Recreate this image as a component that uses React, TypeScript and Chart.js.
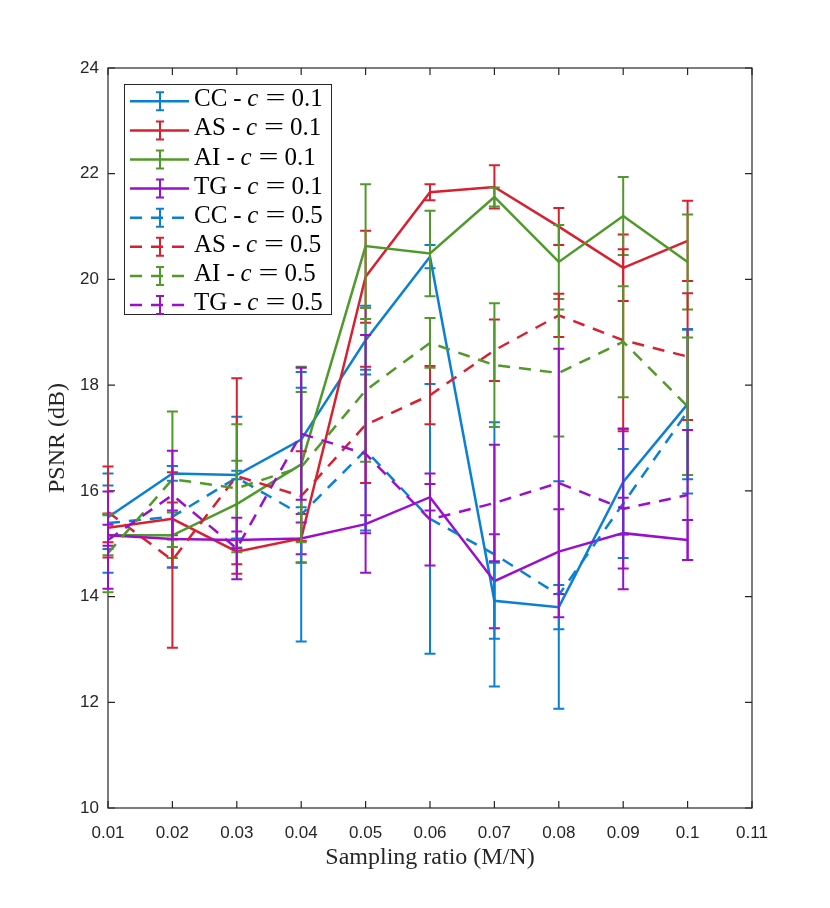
import React, { useEffect, useRef } from 'react'
import { Chart, registerables } from 'chart.js'

Chart.register(...registerables)

// sampling ratios (M/N)
const xValues = [0.01, 0.02, 0.03, 0.04, 0.05, 0.06, 0.07, 0.08, 0.09, 0.1]
const xTicks = [0.01, 0.02, 0.03, 0.04, 0.05, 0.06, 0.07, 0.08, 0.09, 0.1, 0.11]
const yTicks = [10, 12, 14, 16, 18, 20, 22, 24]

// c = 0.1
const ccMean01 = [15.5, 16.33, 16.3, 16.97, 18.85, 20.43, 13.92, 13.8, 16.17, 17.64]
const ccErr01 = [0.6, 0.14, 0.08, 1.28, 0.65, 0.22, 0.72, 0.42, 1.0, 1.42]
const asMean01 = [15.3, 15.47, 14.85, 15.1, 20.05, 21.65, 21.75, 21.0, 20.22, 20.73]
const asErr01 = [0.27, 0.31, 0.24, 0.46, 0.87, 0.15, 0.41, 0.35, 0.63, 0.76]
const aiMean01 = [15.16, 15.16, 15.75, 16.5, 20.63, 20.49, 21.56, 20.33, 21.2, 20.33]
const aiErr01 = [0.38, 0.43, 0.82, 1.85, 1.17, 0.81, 0.18, 0.7, 0.74, 0.9]
const tgMean01 = [15.16, 15.09, 15.07, 15.1, 15.37, 15.88, 14.29, 14.85, 15.2, 15.07]
const tgErr01 = [0.2, 0.54, 0.16, 0.3, 0.17, 0.25, 0.89, 0.8, 0.67, 0.38]

// c = 0.5
const ccMean05 = [15.39, 15.51, 16.25, 15.55, 16.77, 15.47, 14.8, 14.03, 15.76, 17.5]
const ccErr05 = [0.94, 0.96, 1.15, 2.4, 1.52, 2.55, 2.5, 2.15, 1.03, 1.55]
const asMean05 = [15.6, 14.69, 16.28, 15.9, 17.25, 17.81, 18.66, 19.32, 18.85, 18.54]
const asErr05 = [0.86, 1.66, 1.85, 0.85, 1.1, 0.55, 0.58, 0.41, 1.72, 1.2]
const aiMean05 = [14.82, 16.22, 16.05, 16.45, 17.9, 18.8, 18.38, 18.23, 18.82, 17.6]
const aiErr05 = [0.74, 1.28, 1.21, 1.42, 1.35, 0.47, 1.17, 1.2, 1.05, 1.3]
const tgMean05 = [15.07, 15.92, 14.91, 17.08, 16.7, 15.46, 15.77, 16.15, 15.66, 15.92]
const tgErr05 = [0.92, 0.84, 0.58, 1.25, 2.25, 0.87, 1.1, 2.54, 1.52, 1.23]

const methodNames = ['CC', 'AS', 'AI', 'TG', 'CC', 'AS', 'AI', 'TG']
const cValues = ['0.1', '0.1', '0.1', '0.1', '0.5', '0.5', '0.5', '0.5']
const seriesMeans = [ccMean01, asMean01, aiMean01, tgMean01, ccMean05, asMean05, aiMean05, tgMean05]
const seriesErrs = [ccErr01, asErr01, aiErr01, tgErr01, ccErr05, asErr05, aiErr05, tgErr05]
const colors = ['#0a80d4', '#d9202f', '#4f9a2a', '#9a0fcc']
const DASH = [12, 9]

const AXIS_COLOR = '#262626'
const SERIF = '"Liberation Serif", "Times New Roman", serif'

const errorBarPlugin = {
  id: 'errorBars',
  afterDatasetDraw(chart, args) {
    const ds = chart.data.datasets[args.index]
    const errs = ds.errors
    if (!errs) return
    const ctx = chart.ctx
    const xs = chart.scales.x
    const ys = chart.scales.y
    ctx.save()
    ctx.strokeStyle = ds.borderColor
    ctx.lineWidth = 2
    ctx.setLineDash([])
    ds.data.forEach((p, i) => {
      const px = xs.getPixelForValue(p.x)
      const top = ys.getPixelForValue(p.y + errs[i])
      const bot = ys.getPixelForValue(p.y - errs[i])
      ctx.beginPath()
      ctx.moveTo(px, top)
      ctx.lineTo(px, bot)
      ctx.moveTo(px - 5.5, top)
      ctx.lineTo(px + 5.5, top)
      ctx.moveTo(px - 5.5, bot)
      ctx.lineTo(px + 5.5, bot)
      ctx.stroke()
    })
    ctx.restore()
  }
}

// matlab style box with inward ticks on all four sides
const boxPlugin = {
  id: 'matlabBox',
  beforeDatasetsDraw(chart) {
    const ctx = chart.ctx
    const a = chart.chartArea
    const xs = chart.scales.x
    const ys = chart.scales.y
    ctx.save()
    ctx.strokeStyle = AXIS_COLOR
    ctx.lineWidth = 1.2
    ctx.strokeRect(a.left, a.top, a.right - a.left, a.bottom - a.top)
    ctx.beginPath()
    xs.ticks.forEach((t) => {
      const px = xs.getPixelForValue(t.value)
      ctx.moveTo(px, a.bottom)
      ctx.lineTo(px, a.bottom - 7)
      ctx.moveTo(px, a.top)
      ctx.lineTo(px, a.top + 7)
    })
    ys.ticks.forEach((t) => {
      const py = ys.getPixelForValue(t.value)
      ctx.moveTo(a.left, py)
      ctx.lineTo(a.left + 7, py)
      ctx.moveTo(a.right, py)
      ctx.lineTo(a.right - 7, py)
    })
    ctx.stroke()
    ctx.restore()
  }
}

const legendPlugin = {
  id: 'errLegend',
  afterDraw(chart) {
    const ctx = chart.ctx
    const a = chart.chartArea
    const bx = a.left + 16
    const by = a.top + 16
    const bw = 207
    const bh = 230
    ctx.save()
    ctx.fillStyle = '#ffffff'
    ctx.fillRect(bx, by, bw, bh)
    ctx.strokeStyle = AXIS_COLOR
    ctx.lineWidth = 1
    ctx.strokeRect(bx + 0.5, by + 0.5, bw, bh)
    const normal = '25px ' + SERIF
    const italic = 'italic 25px ' + SERIF
    chart.data.datasets.forEach((ds, i) => {
      const cy = by + 17.3 + i * 29.1
      const lx = bx + 6
      ctx.strokeStyle = ds.borderColor
      ctx.lineWidth = 2.5
      ctx.setLineDash(ds.borderDash || [])
      ctx.beginPath()
      ctx.moveTo(lx, cy)
      ctx.lineTo(lx + 59, cy)
      ctx.stroke()
      ctx.setLineDash([])
      ctx.lineWidth = 2
      const gx = lx + 30
      ctx.beginPath()
      ctx.moveTo(gx, cy - 9)
      ctx.lineTo(gx, cy + 9)
      ctx.moveTo(gx - 4, cy - 9)
      ctx.lineTo(gx + 4, cy - 9)
      ctx.moveTo(gx - 4, cy + 9)
      ctx.lineTo(gx + 4, cy + 9)
      ctx.stroke()

      ctx.fillStyle = '#000000'
      ctx.textBaseline = 'middle'
      const ty = cy - 1.5
      let tx = lx + 64
      ctx.font = normal
      ctx.fillText(methodNames[i], tx, ty)
      tx += ctx.measureText(methodNames[i]).width + 6
      ctx.fillText('-', tx, ty)
      tx += 14
      ctx.font = italic
      ctx.fillText('c', tx, ty)
      tx += ctx.measureText('c').width + 7
      // wide LaTeX style equals sign
      ctx.font = normal
      const eqW = ctx.measureText('=').width
      ctx.save()
      ctx.translate(tx, ty)
      ctx.scale(20 / eqW, 1)
      ctx.fillText('=', 0, 0)
      ctx.restore()
      tx += 26
      ctx.fillText(cValues[i], tx, ty)
    })
    ctx.restore()
  }
}

const App = () => {
  const chartRef = useRef(null)
  const chartInstanceRef = useRef(null)

  useEffect(() => {
    document.body.style.margin = '0'
    const ctx = chartRef.current.getContext('2d')

    const datasets = seriesMeans.map((means, i) => ({
      label: methodNames[i] + ' - c = ' + cValues[i],
      data: xValues.map((x, j) => ({ x, y: means[j] })),
      errors: seriesErrs[i],
      borderColor: colors[i % 4],
      backgroundColor: colors[i % 4],
      borderWidth: 2.5,
      borderDash: i >= 4 ? DASH : [],
      pointRadius: 0,
      tension: 0,
      fill: false,
      order: 8 - i
    }))

    chartInstanceRef.current = new Chart(ctx, {
      type: 'line',
      data: { datasets },
      options: {
        responsive: false,
        animation: false,
        layout: { padding: { top: 68, right: 78, left: 0, bottom: 0 } },
        plugins: {
          legend: { display: false },
          tooltip: { enabled: false }
        },
        scales: {
          x: {
            type: 'linear',
            min: 0.01,
            max: 0.11,
            afterBuildTicks: (scale) => {
              scale.ticks = xTicks.map((v) => ({ value: v }))
            },
            afterFit: (scale) => {
              scale.height = 100
            },
            grid: { display: false, drawTicks: false },
            border: { display: false },
            ticks: {
              autoSkip: false,
              maxRotation: 0,
              padding: 15,
              color: AXIS_COLOR,
              font: { family: '"Liberation Sans", Arial, sans-serif', size: 17 },
              callback: (v) => String(Number(Number(v).toFixed(2)))
            },
            title: {
              display: true,
              text: 'Sampling ratio (M/N)',
              color: AXIS_COLOR,
              font: { family: SERIF, size: 24 },
              padding: { top: 0, bottom: 36 }
            }
          },
          y: {
            min: 10,
            max: 24,
            afterBuildTicks: (scale) => {
              scale.ticks = yTicks.map((v) => ({ value: v }))
            },
            afterFit: (scale) => {
              scale.width = 108
            },
            grid: { display: false, drawTicks: false },
            border: { display: false },
            ticks: {
              padding: 9,
              color: AXIS_COLOR,
              font: { family: '"Liberation Sans", Arial, sans-serif', size: 17 }
            },
            title: {
              display: true,
              text: 'PSNR (dB)',
              color: AXIS_COLOR,
              font: { family: SERIF, size: 24 },
              padding: { top: 43, bottom: 0 }
            }
          }
        }
      },
      plugins: [boxPlugin, errorBarPlugin, legendPlugin]
    })

    return () => {
      chartInstanceRef.current.destroy()
    }
  }, [])

  return (
    <div style={{ width: 830, height: 908, background: '#ffffff' }}>
      <canvas ref={chartRef} width={830} height={908}></canvas>
    </div>
  )
}

export default App
